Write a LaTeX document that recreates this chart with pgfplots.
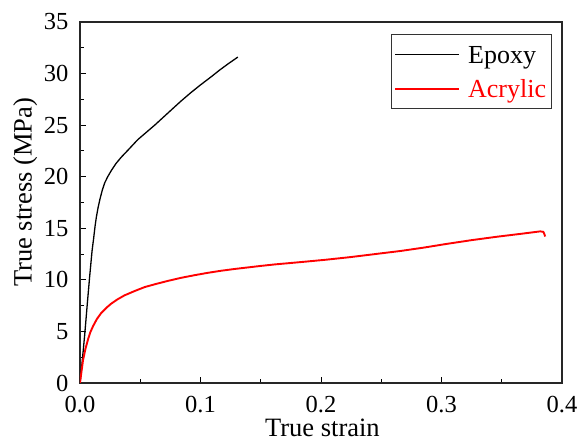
\documentclass[border=0pt]{standalone}
\usepackage{fontspec}
\setmainfont{Liberation Serif}
\usepackage{pgfplots}
\pgfplotsset{compat=1.18}

% true stress-strain curves
\pgfplotstableread{
x y
0 0
0.002 2.3
0.004 4.8
0.006 7.6
0.008 10.3
0.0100 12.8
0.0113 14.0
0.0125 15.2
0.0136 16.1
0.0150 17.0
0.0165 17.8
0.0185 18.7
0.0205 19.4
0.0230 20.0
0.0260 20.6
0.0300 21.3
0.0343 21.9
0.040 22.6
0.048 23.6
0.055 24.3
0.062 25.0
0.069 25.75
0.076 26.5
0.084 27.35
0.092 28.15
0.100 28.9
0.109 29.7
0.116 30.35
0.123 30.95
0.131 31.6
}\epoxy

\pgfplotstableread{
x y
0 0
0.001 0.9
0.0025 2.2
0.0045 3.3
0.0066 4.2
0.0085 4.9
0.0108 5.5
0.014 6.2
0.0177 6.8
0.022 7.3
0.026 7.7
0.031 8.1
0.037 8.5
0.045 8.9
0.0537 9.3
0.063 9.6
0.073 9.9
0.084 10.2
0.095 10.45
0.106 10.68
0.117 10.88
0.128 11.05
0.139 11.2
0.150 11.35
0.162 11.5
0.183 11.72
0.204 11.95
0.224 12.2
0.245 12.5
0.266 12.8
0.285 13.12
0.304 13.48
0.325 13.85
0.346 14.18
0.365 14.45
0.382 14.7
0.3845 14.65
0.3855 14.4
0.386 14.2
}\acrylic

\begin{document}
\begin{tikzpicture}
\begin{axis}[
  scale only axis, width=482pt, height=361pt,
  xmin=0, xmax=0.4, ymin=0, ymax=35,
  xtick={0,0.1,0.2,0.3,0.4}, ytick={0,5,10,15,20,25,30,35},
  minor x tick num=1, minor y tick num=1,
  tick align=inside, tick pos=left,
  major tick length=6pt, minor tick length=4pt,
  axis line style={line width=1.3pt, black!85},
  every tick/.style={black, line width=1pt},
  /pgf/number format/assume math mode=true,
  ticklabel style={font=\fontsize{24.5}{24.5}\selectfont},
  xticklabel style={yshift=-9.5pt, /pgf/number format/.cd, fixed, fixed zerofill, precision=1},
  yticklabel style={xshift=-8pt},
  label style={font=\fontsize{26.5}{26.5}\selectfont, inner sep=0pt},
  xlabel={True strain}, ylabel={True stress (MPa)},
  xlabel style={at={(axis description cs:0.503,-0.1488)}, anchor=base},
  ylabel style={at={(axis description cs:-0.1002,0.528)}, anchor=base, rotate=0},
  legend style={at={(1,1)}, anchor=north east, xshift=-10.3pt, yshift=-12pt,
    draw=black!80, line width=1.2pt, font=\fontsize{26}{26}\selectfont,
    inner xsep=3pt, inner ysep=6pt, row sep=5.7pt, column sep=6pt,
    nodes={inner xsep=2pt, inner ysep=2pt, text height=21.3pt, text depth=3pt}},
  legend cell align=left,
  legend image code/.code={\draw[#1] (0pt,0pt) -- (64pt,0pt);},
]
\addplot[black, line width=1.3pt] table[x=x,y=y] {\epoxy};
\addlegendentry{Epoxy}
\addplot[red, line width=1.9pt] table[x=x,y=y] {\acrylic};
\addlegendentry{\color{red}Acrylic}
\coordinate (sw) at (rel axis cs:0,0);
\coordinate (ne) at (rel axis cs:1,1);
\end{axis}
\pgfresetboundingbox
\path[use as bounding box] ([xshift=-80pt,yshift=-59pt]sw) rectangle ([xshift=18pt,yshift=22pt]ne);
\end{tikzpicture}
\end{document}
